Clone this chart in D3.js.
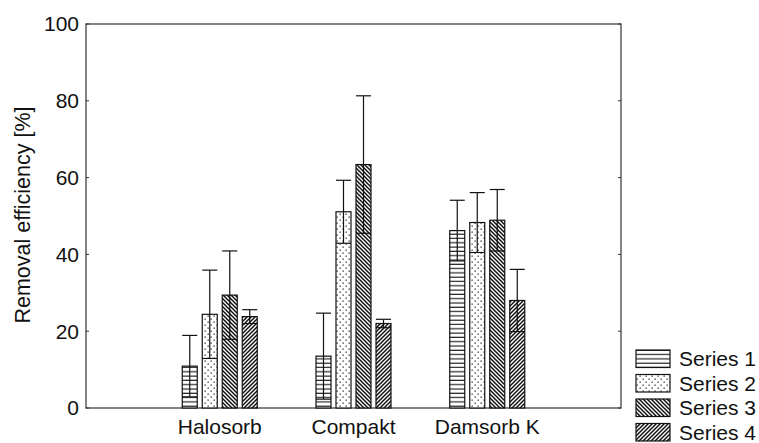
<!DOCTYPE html>
<html>
<head>
<meta charset="utf-8">
<script src="https://cdn.jsdelivr.net/npm/d3@7"></script>
<style>
  html, body { margin: 0; padding: 0; background: #fff; }
  svg { display: block; font-family: Arial, "Liberation Sans", sans-serif; }
</style>
</head>
<body>
<svg id="chart" width="759" height="443"></svg>
<script>
const categories = ["Halosorb", "Compakt", "Damsorb K"];
const seriesNames = ["Series 1", "Series 2", "Series 3", "Series 4"];
const series1 = [10.9, 13.5, 46.2];
const series2 = [24.4, 51.1, 48.3];
const series3 = [29.4, 63.4, 48.9];
const series4 = [23.8, 22.0, 28.0];
const err1 = [8.0, 11.2, 7.9];
const err2 = [11.5, 8.2, 7.8];
const err3 = [11.5, 17.9, 8.0];
const err4 = [1.8, 1.1, 8.1];
const yTicks = [0, 20, 40, 60, 80, 100];

const values = [series1, series2, series3, series4];
const errors = [err1, err2, err3, err4];

const svg = d3.select("#chart");
const L = 86, R = 621, T = 24, B = 408;

const y = d3.scaleLinear().domain([0, 100]).range([B, T]);
const x = d3.scalePoint().domain(categories).range([L, R]).padding(1);
const xs = d3.scaleBand().domain(seriesNames).range([-40, 40]).paddingInner(0.25).paddingOuter(0.125);

// patterns
const defs = svg.append("defs");
const p1 = defs.append("pattern").attr("id", "pat0").attr("patternUnits", "userSpaceOnUse").attr("width", 8).attr("height", 4.3);
p1.append("rect").attr("width", 8).attr("height", 4.3).attr("fill", "#fff");
p1.append("line").attr("x1", 0).attr("x2", 8).attr("y1", 2).attr("y2", 2).attr("stroke", "#222").attr("stroke-width", 1.2);

const p2 = defs.append("pattern").attr("id", "pat1").attr("patternUnits", "userSpaceOnUse").attr("width", 6).attr("height", 6);
p2.append("rect").attr("width", 6).attr("height", 6).attr("fill", "#fff");
p2.append("rect").attr("x", 0.5).attr("y", 0.5).attr("width", 1.3).attr("height", 1.3).attr("fill", "#333");
p2.append("rect").attr("x", 3.5).attr("y", 3.5).attr("width", 1.3).attr("height", 1.3).attr("fill", "#333");

const p3 = defs.append("pattern").attr("id", "pat2").attr("patternUnits", "userSpaceOnUse").attr("width", 4).attr("height", 4);
p3.append("rect").attr("width", 4).attr("height", 4).attr("fill", "#fff");
p3.append("path").attr("d", "M-1,-1 L5,5 M-1,3 L1,5 M3,-1 L5,1").attr("stroke", "#111").attr("stroke-width", 1.5);

const p4 = defs.append("pattern").attr("id", "pat3").attr("patternUnits", "userSpaceOnUse").attr("width", 4).attr("height", 4);
p4.append("rect").attr("width", 4).attr("height", 4).attr("fill", "#fff");
p4.append("path").attr("d", "M-1,5 L5,-1 M-1,1 L1,-1 M3,5 L5,3").attr("stroke", "#111").attr("stroke-width", 1.5);

// frame
svg.append("rect").attr("x", L).attr("y", T).attr("width", R - L).attr("height", B - T)
  .attr("fill", "none").attr("stroke", "#333").attr("stroke-width", 1.2);

// y axis labels + ticks
const yAxis = svg.append("g");
yTicks.forEach(t => {
  yAxis.append("text").attr("x", 79).attr("y", y(t)).attr("dy", "0.35em")
    .attr("text-anchor", "end").attr("font-size", 21).attr("fill", "#111").text(t);
  yAxis.append("line").attr("x1", L).attr("x2", L + 3).attr("y1", y(t)).attr("y2", y(t)).attr("stroke", "#333");
  yAxis.append("line").attr("x1", R - 3).attr("x2", R).attr("y1", y(t)).attr("y2", y(t)).attr("stroke", "#333");
});

svg.append("text").attr("transform", `translate(30,215) rotate(-90)`)
  .attr("text-anchor", "middle").attr("font-size", 21.5).attr("fill", "#111")
  .text("Removal efficiency [%]");

// category labels
categories.forEach(c => {
  svg.append("text").attr("x", x(c)).attr("y", 434).attr("text-anchor", "middle")
    .attr("font-size", 21).attr("fill", "#111").text(c);
});

// bars
const bw = xs.bandwidth();
seriesNames.forEach((s, si) => {
  const g = svg.append("g");
  categories.forEach((c, ci) => {
    const v = values[si][ci];
    const e = errors[si][ci];
    const bx = x(c) + xs(s);
    g.append("rect").attr("x", bx).attr("y", y(v)).attr("width", bw).attr("height", y(0) - y(v))
      .attr("fill", `url(#pat${si})`).attr("stroke", "#111").attr("stroke-width", 1.2);
    const cx = bx + bw / 2;
    g.append("line").attr("x1", cx).attr("x2", cx).attr("y1", y(v + e)).attr("y2", y(v - e)).attr("stroke", "#111").attr("stroke-width", 1.2);
    g.append("line").attr("x1", bx).attr("x2", bx + bw).attr("y1", y(v + e)).attr("y2", y(v + e)).attr("stroke", "#111").attr("stroke-width", 1.2);
    g.append("line").attr("x1", bx).attr("x2", bx + bw).attr("y1", y(v - e)).attr("y2", y(v - e)).attr("stroke", "#111").attr("stroke-width", 1.2);
  });
});

// legend
const lg = svg.append("g");
seriesNames.forEach((s, i) => {
  const ly = 350 + i * 24.5;
  lg.append("rect").attr("x", 636).attr("y", ly).attr("width", 34).attr("height", 17.5)
    .attr("fill", `url(#pat${i})`).attr("stroke", "#111").attr("stroke-width", 1.2);
  lg.append("text").attr("x", 679).attr("y", ly + 9).attr("dy", "0.35em")
    .attr("font-size", 21).attr("fill", "#111").text(s);
});
</script>
</body>
</html>
